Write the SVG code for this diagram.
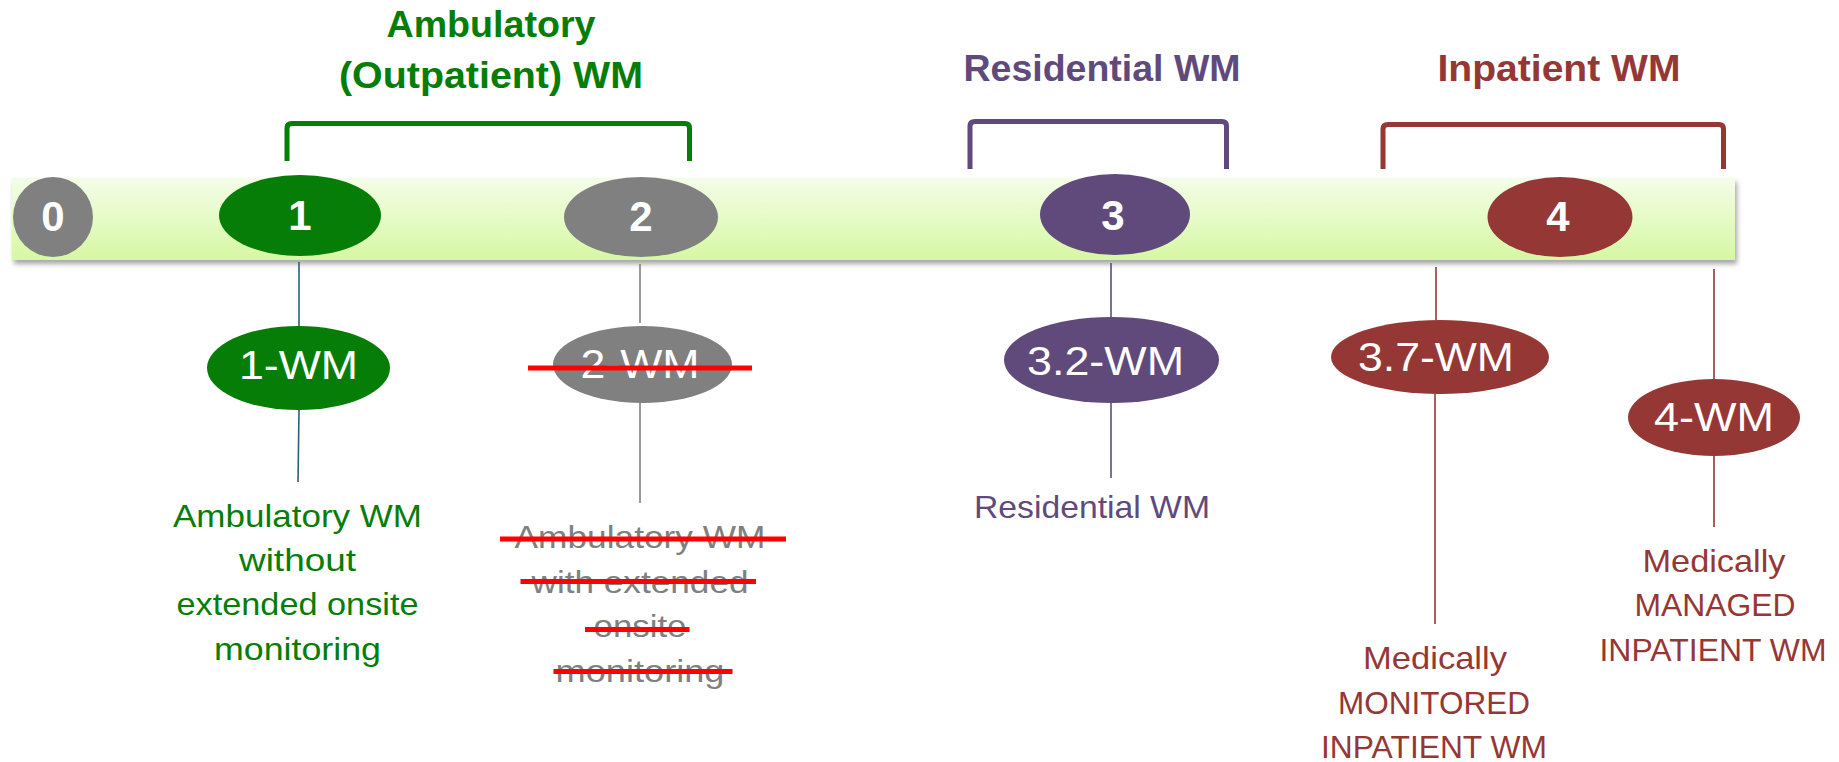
<svg xmlns="http://www.w3.org/2000/svg" width="1839" height="762" viewBox="0 0 1839 762">
<defs>
<linearGradient id="barGrad" x1="0" y1="0" x2="0" y2="1">
<stop offset="0" stop-color="#f4fde8"/>
<stop offset="1" stop-color="#d6f8a3"/>
</linearGradient>
<filter id="shadow" x="-2%" y="-20%" width="104%" height="150%">
<feDropShadow dx="2" dy="4" stdDeviation="2.5" flood-color="#000" flood-opacity="0.35"/>
</filter>
</defs>
<style>
text{font-family:"Liberation Sans",Arial,sans-serif;text-anchor:middle}
.title{font-weight:bold;font-size:36px}
.num{font-weight:bold;font-size:42px;fill:#fff}
.lvl{font-size:40px;fill:#fff}
.desc{font-size:32px}
.bracket{fill:none;stroke-width:5;stroke-linejoin:round}
.strike{stroke:#ff0000;stroke-width:5}
.green{fill:#067d06}
.gray{fill:#808080}
.purple{fill:#604a7b}
.red{fill:#953735}
</style>
<rect x="12" y="178" width="1723" height="82" fill="url(#barGrad)" filter="url(#shadow)"/>
<g id="titles">
<text class="title green" x="491" y="37" textLength="209" lengthAdjust="spacingAndGlyphs">Ambulatory</text>
<text class="title green" x="491" y="88" textLength="304" lengthAdjust="spacingAndGlyphs">(Outpatient) WM</text>
<text class="title purple" x="1102" y="81" textLength="277" lengthAdjust="spacingAndGlyphs">Residential WM</text>
<text class="title red" x="1559" y="81" textLength="243" lengthAdjust="spacingAndGlyphs">Inpatient WM</text>
</g>
<g id="brackets">
<path class="bracket" stroke="#067d06" d="M287 161 V128 Q287 123.5 292 123.5 H685 Q689.5 123.5 689.5 128 V161"/>
<path class="bracket" stroke="#604a7b" d="M970 169 V126 Q970 121.5 975 121.5 H1222 Q1226.5 121.5 1226.5 126 V169"/>
<path class="bracket" stroke="#953735" d="M1383 169 V129 Q1383 124.5 1388 124.5 H1719 Q1723.5 124.5 1723.5 129 V169"/>
</g>
<g id="connectors" fill="none" stroke-width="1.6">
<line x1="299" y1="262" x2="299" y2="326" stroke="#2e5f7a"/>
<line x1="299" y1="410" x2="298" y2="482" stroke="#2e5f7a"/>
<line x1="640" y1="264" x2="640" y2="323" stroke="#808080"/>
<line x1="640" y1="403" x2="640" y2="503" stroke="#808080"/>
<line x1="1111" y1="263" x2="1111" y2="317" stroke="#604a7b"/>
<line x1="1111" y1="403" x2="1111" y2="478" stroke="#604a7b"/>
<line x1="1436" y1="267" x2="1436" y2="320" stroke="#953735"/>
<line x1="1435" y1="394" x2="1435" y2="624" stroke="#953735"/>
<line x1="1714" y1="269" x2="1714" y2="379" stroke="#953735"/>
<line x1="1714" y1="456" x2="1714" y2="527" stroke="#953735"/>
</g>
<g id="n0">
<ellipse class="gray" cx="53" cy="217" rx="40" ry="40"/>
<text class="num" x="53" y="231">0</text>
</g>
<g id="n1">
<ellipse class="green" cx="300" cy="215.5" rx="81" ry="40.5"/>
<text class="num" x="300" y="230">1</text>
</g>
<g id="n2">
<ellipse class="gray" cx="641" cy="217" rx="77" ry="40"/>
<text class="num" x="641" y="231">2</text>
</g>
<g id="n3">
<ellipse class="purple" cx="1115" cy="214.5" rx="75" ry="40.5"/>
<text class="num" x="1113" y="230">3</text>
</g>
<g id="n4">
<ellipse class="red" cx="1560" cy="217" rx="72.5" ry="40"/>
<text class="num" x="1558" y="231">4</text>
</g>
<g id="wm1">
<ellipse class="green" cx="298.5" cy="368" rx="91.5" ry="42"/>
<text class="lvl" x="298.5" y="379" textLength="119" lengthAdjust="spacingAndGlyphs">1-WM</text>
</g>
<g id="wm2">
<ellipse class="gray" cx="642.5" cy="364.5" rx="89.5" ry="38.5"/>
<text class="lvl" x="640" y="378" textLength="119" lengthAdjust="spacingAndGlyphs">2-WM</text>
<line class="strike" x1="528" y1="368" x2="752" y2="368"/>
</g>
<g id="wm32">
<ellipse class="purple" cx="1111.5" cy="360" rx="107.5" ry="43"/>
<text class="lvl" x="1105.5" y="375" textLength="157" lengthAdjust="spacingAndGlyphs">3.2-WM</text>
</g>
<g id="wm37">
<ellipse class="red" cx="1440" cy="357" rx="109" ry="37"/>
<text class="lvl" x="1436" y="371" textLength="156" lengthAdjust="spacingAndGlyphs">3.7-WM</text>
</g>
<g id="wm4">
<ellipse class="red" cx="1714" cy="417.5" rx="86" ry="38.5"/>
<text class="lvl" x="1714" y="431" textLength="120" lengthAdjust="spacingAndGlyphs">4-WM</text>
</g>
<g id="desc1">
<text class="desc green" x="297.5" y="527" textLength="249" lengthAdjust="spacingAndGlyphs">Ambulatory WM</text>
<text class="desc green" x="297.5" y="571" textLength="117" lengthAdjust="spacingAndGlyphs">without</text>
<text class="desc green" x="297.5" y="615" textLength="242" lengthAdjust="spacingAndGlyphs">extended onsite</text>
<text class="desc green" x="297.5" y="660" textLength="167" lengthAdjust="spacingAndGlyphs">monitoring</text>
</g>
<g id="desc2">
<text class="desc gray" x="640" y="548" textLength="251" lengthAdjust="spacingAndGlyphs">Ambulatory WM</text>
<text class="desc gray" x="640" y="592.5" textLength="217" lengthAdjust="spacingAndGlyphs">with extended</text>
<text class="desc gray" x="640" y="637" textLength="93" lengthAdjust="spacingAndGlyphs">onsite</text>
<text class="desc gray" x="640" y="681.5" textLength="169" lengthAdjust="spacingAndGlyphs">monitoring</text>
<line class="strike" x1="500" y1="539" x2="786" y2="539"/>
<line class="strike" x1="520.5" y1="581.5" x2="756" y2="581.5"/>
<line class="strike" x1="585" y1="629.5" x2="689.5" y2="629.5"/>
<line class="strike" x1="553.5" y1="671.5" x2="732.5" y2="671.5"/>
</g>
<g id="desc3">
<text class="desc purple" x="1092" y="518" textLength="236" lengthAdjust="spacingAndGlyphs">Residential WM</text>
</g>
<g id="desc37">
<text class="desc red" x="1435" y="669" textLength="144" lengthAdjust="spacingAndGlyphs">Medically</text>
<text class="desc red" x="1434" y="714" textLength="192" lengthAdjust="spacingAndGlyphs">MONITORED</text>
<text class="desc red" x="1434" y="758" textLength="226" lengthAdjust="spacingAndGlyphs">INPATIENT WM</text>
</g>
<g id="desc4">
<text class="desc red" x="1714" y="572" textLength="143" lengthAdjust="spacingAndGlyphs">Medically</text>
<text class="desc red" x="1715" y="616" textLength="161" lengthAdjust="spacingAndGlyphs">MANAGED</text>
<text class="desc red" x="1713" y="661" textLength="227" lengthAdjust="spacingAndGlyphs">INPATIENT WM</text>
</g>
</svg>
